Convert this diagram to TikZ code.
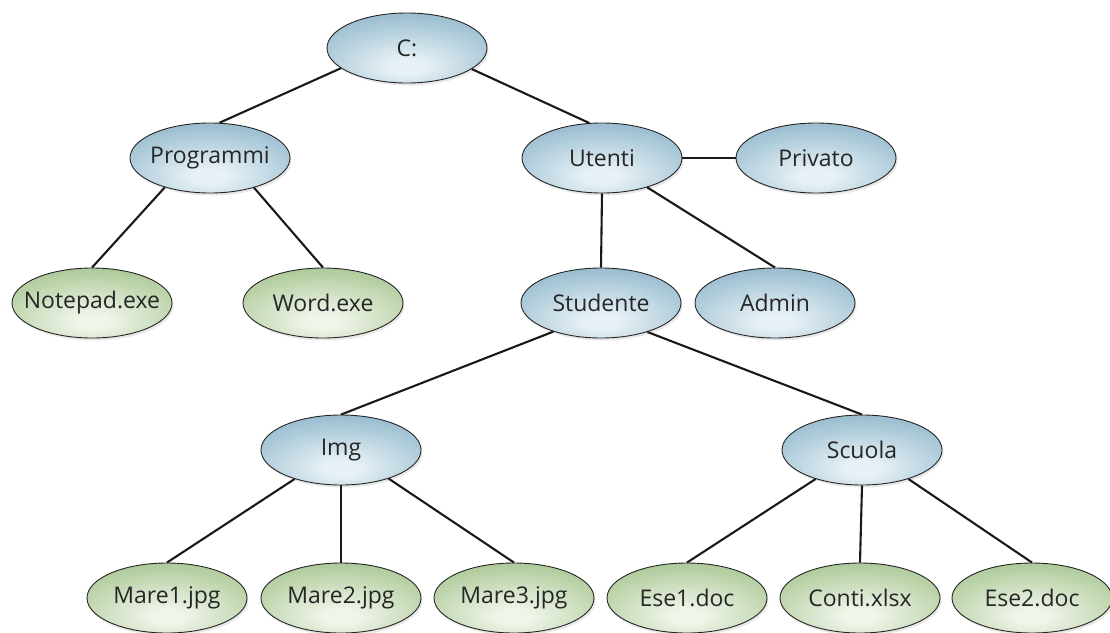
\documentclass[tikz,border=0pt]{standalone}
\usepackage{fontspec}
\setmainfont{Open Sans}
\usetikzlibrary{shapes.geometric,shadows}
\definecolor{bin}{HTML}{E8F2F6}
\definecolor{bmid}{HTML}{AECBDA}
\definecolor{bout}{HTML}{82AAC2}
\definecolor{gin}{HTML}{F0F5EA}
\definecolor{gmid}{HTML}{C0D6AF}
\definecolor{gout}{HTML}{96BA7E}
\pgfdeclareradialshading{blueshade}{\pgfpoint{0bp}{-14bp}}{color(0bp)=(bin); color(5bp)=(bin); color(26bp)=(bmid); color(44bp)=(bout); color(100bp)=(bout)}
\pgfdeclareradialshading{greenshade}{\pgfpoint{0bp}{-14bp}}{color(0bp)=(gin); color(5bp)=(gin); color(26bp)=(gmid); color(44bp)=(gout); color(100bp)=(gout)}
\tikzset{
  base/.style={ellipse, draw=black!85, line width=0.9pt, minimum width=160pt, minimum height=70pt,
    inner xsep=-30pt, inner ysep=0pt,
    font=\fontsize{23}{27}\selectfont, text=black!85,
    drop shadow={opacity=0.18, shadow xshift=1.5pt, shadow yshift=-2.5pt}},
  folder/.style={base, shading=blueshade},
  file/.style={base, shading=greenshade},
  link/.style={line width=2.1pt, black!90}
}
\begin{document}
\begin{tikzpicture}[x=1pt,y=-1pt]
\useasboundingbox (0,0) rectangle (1110,632);
\node[folder] (C) at (407,48) {C:};
\node[folder] (prog) at (210,158) {Programmi};
\node[folder] (ut) at (602,158) {Utenti};
\node[folder] (priv) at (816,158) {Privato};
\node[file] (note) at (92,303) {Notepad.exe};
\node[file] (word) at (323,303) {Word.exe};
\node[folder] (stud) at (601,303) {Studente};
\node[folder] (adm) at (775,303) {Admin};
\node[folder] (img) at (341,450) {Img};
\node[folder] (sc) at (862,450) {Scuola};
\node[file] (m1) at (167,598) {Mare1.jpg};
\node[file] (m2) at (341,598) {Mare2.jpg};
\node[file] (m3) at (514,598) {Mare3.jpg};
\node[file] (e1) at (687,598) {Ese1.doc};
\node[file] (co) at (860,598) {Conti.xlsx};
\node[file] (e2) at (1032,598) {Ese2.doc};
\draw[link] (C.197) -- (prog.75);
\draw[link] (C.342) -- (ut.110);
\draw[link] (prog.213) -- (note.north);
\draw[link] (prog.326) -- (word.north);
\draw[link] (ut.south) -- (stud.north);
\draw[link] (ut.327) -- (adm.north);
\draw[link] (ut.east) -- (priv.west);
\draw[link] (stud.211) -- (img.north);
\draw[link] (stud.328) -- (sc.north);
\draw[link] (img.212) -- (m1.north);
\draw[link] (img.south) -- (m2.north);
\draw[link] (img.329) -- (m3.north);
\draw[link] (sc.212) -- (e1.north);
\draw[link] (sc.south) -- (co.north);
\draw[link] (sc.328) -- (e2.north);
\end{tikzpicture}
\end{document}
